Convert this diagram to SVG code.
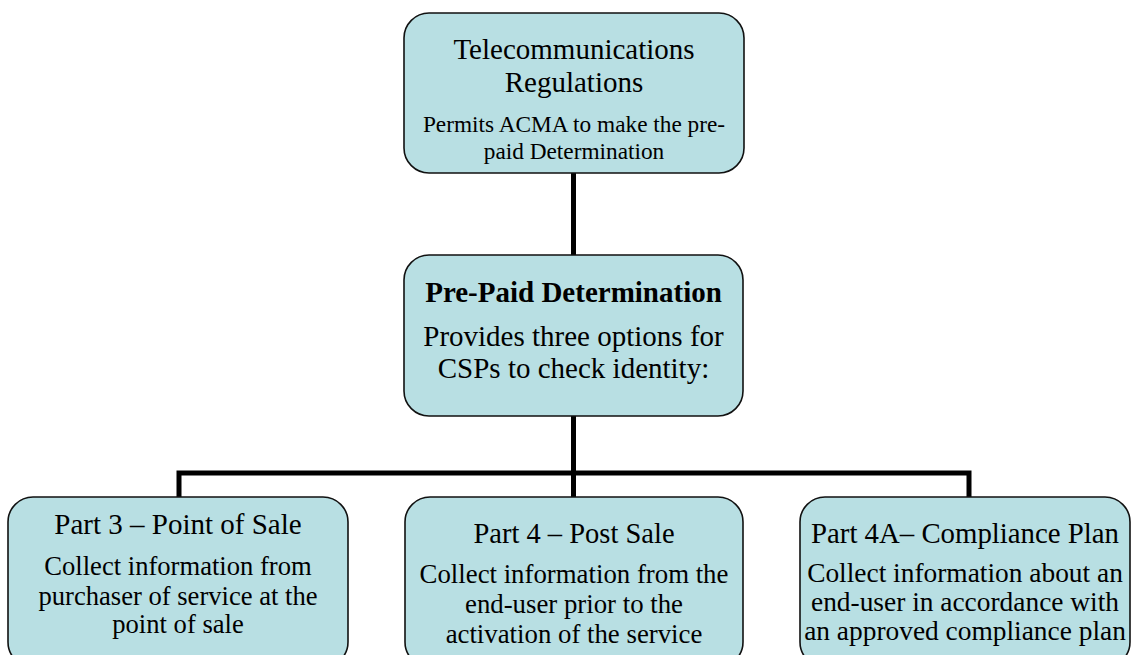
<svg xmlns="http://www.w3.org/2000/svg" width="1131" height="655" viewBox="0 0 1131 655">
<style>
.box{fill:#b8dfe3;stroke:#111;stroke-width:1.6}
.t{font-family:"Liberation Serif","Times New Roman",serif;fill:#000;text-anchor:middle}
.conn{stroke:#000;stroke-width:5;fill:none}
</style>
<rect x="0" y="0" width="1131" height="655" fill="#fff"/>
<g id="connectors">
<path class="conn" d="M573.5 173 V255"/>
<path class="conn" d="M573.5 416 V473"/>
<path class="conn" d="M179 497 V473 H969 V497"/>
<path class="conn" d="M573.5 473 V497"/>
</g>
<g id="regulations">
<rect class="box" x="404" y="13" width="340" height="160" rx="25"/>
<text class="t" x="574" y="59" font-size="29">Telecommunications</text>
<text class="t" x="574" y="92" font-size="29">Regulations</text>
<text class="t" x="574" y="131.5" font-size="23.3">Permits ACMA to make the pre-</text>
<text class="t" x="574" y="159" font-size="23.3">paid Determination</text>
</g>
<g id="determination">
<rect class="box" x="404" y="255" width="339" height="161" rx="25"/>
<text class="t" x="573.5" y="302" font-size="29" font-weight="bold">Pre-Paid Determination</text>
<text class="t" x="573.5" y="346" font-size="29">Provides three options for</text>
<text class="t" x="573.5" y="378" font-size="29">CSPs to check identity:</text>
</g>
<g id="part3">
<rect class="box" x="8" y="497" width="340" height="170" rx="25"/>
<text class="t" x="178" y="534" font-size="29">Part 3 – Point of Sale</text>
<text class="t" x="178" y="575" font-size="26.6">Collect information from</text>
<text class="t" x="178" y="605" font-size="26.6">purchaser of service at the</text>
<text class="t" x="178" y="633" font-size="26.6">point of sale</text>
</g>
<g id="part4">
<rect class="box" x="405" y="497" width="338" height="170" rx="25"/>
<text class="t" x="574" y="543" font-size="28.5">Part 4 – Post Sale</text>
<text class="t" x="574" y="583" font-size="26.8">Collect information from the</text>
<text class="t" x="574" y="613" font-size="26.8">end-user prior to the</text>
<text class="t" x="574" y="643" font-size="26.8">activation of the service</text>
</g>
<g id="part4a">
<rect class="box" x="800" y="497" width="330" height="170" rx="25"/>
<text class="t" x="965" y="543" font-size="28.8">Part 4A– Compliance Plan</text>
<text class="t" x="965" y="582" font-size="27.4">Collect information about an</text>
<text class="t" x="965" y="611" font-size="27.4">end-user in accordance with</text>
<text class="t" x="965" y="640" font-size="27.4">an approved compliance plan</text>
</g>
</svg>
